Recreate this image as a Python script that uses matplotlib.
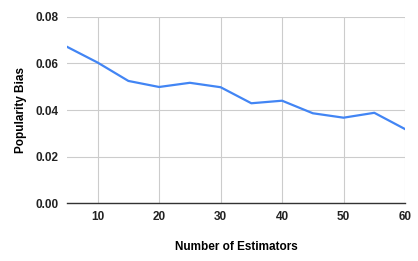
import matplotlib
matplotlib.use("Agg")
import matplotlib.pyplot as plt

# data
n_estimators = [5, 10, 15, 20, 25, 30, 35, 40, 45, 50, 55, 60]
popularity_bias = [0.0672, 0.0604, 0.0525, 0.0499, 0.0517, 0.0498,
                   0.0429, 0.0440, 0.0386, 0.0367, 0.0388, 0.0318]
x_ticks = [10, 20, 30, 40, 50, 60]
y_ticks = [0.0, 0.02, 0.04, 0.06, 0.08]

plt.rcParams['font.family'] = ['Liberation Sans', 'DejaVu Sans']

fig = plt.figure(figsize=(4.18, 2.61), dpi=100)
ax = fig.add_axes([0.160, 0.222, 0.809, 0.713])

ax.plot(n_estimators, popularity_bias, color='#4285F4', linewidth=1.6,
        solid_joinstyle='round', zorder=3)

ax.set_xlim(5, 60)
ax.set_ylim(0, 0.08)
ax.set_xticks(x_ticks)
ax.set_yticks(y_ticks)
ax.set_yticklabels([f'{v:.2f}' for v in y_ticks])

ax.grid(True, color='#cccccc', linewidth=0.8, zorder=0)
for side in ['top', 'right', 'left']:
    ax.spines[side].set_visible(False)
ax.spines['bottom'].set_color('#333333')
ax.spines['bottom'].set_linewidth(1.0)
ax.spines['bottom'].set_zorder(4)
ax.tick_params(axis='both', length=0, labelsize=8.5, colors='#222222', pad=6)
for lbl in ax.get_xticklabels() + ax.get_yticklabels():
    lbl.set_fontweight('bold')

ax.set_xlabel('Number of Estimators', fontsize=8.5, fontweight='bold', labelpad=13)
ax.set_ylabel('Popularity Bias', fontsize=8.5, fontweight='bold', labelpad=6)

fig.savefig('out.png', dpi=100)
